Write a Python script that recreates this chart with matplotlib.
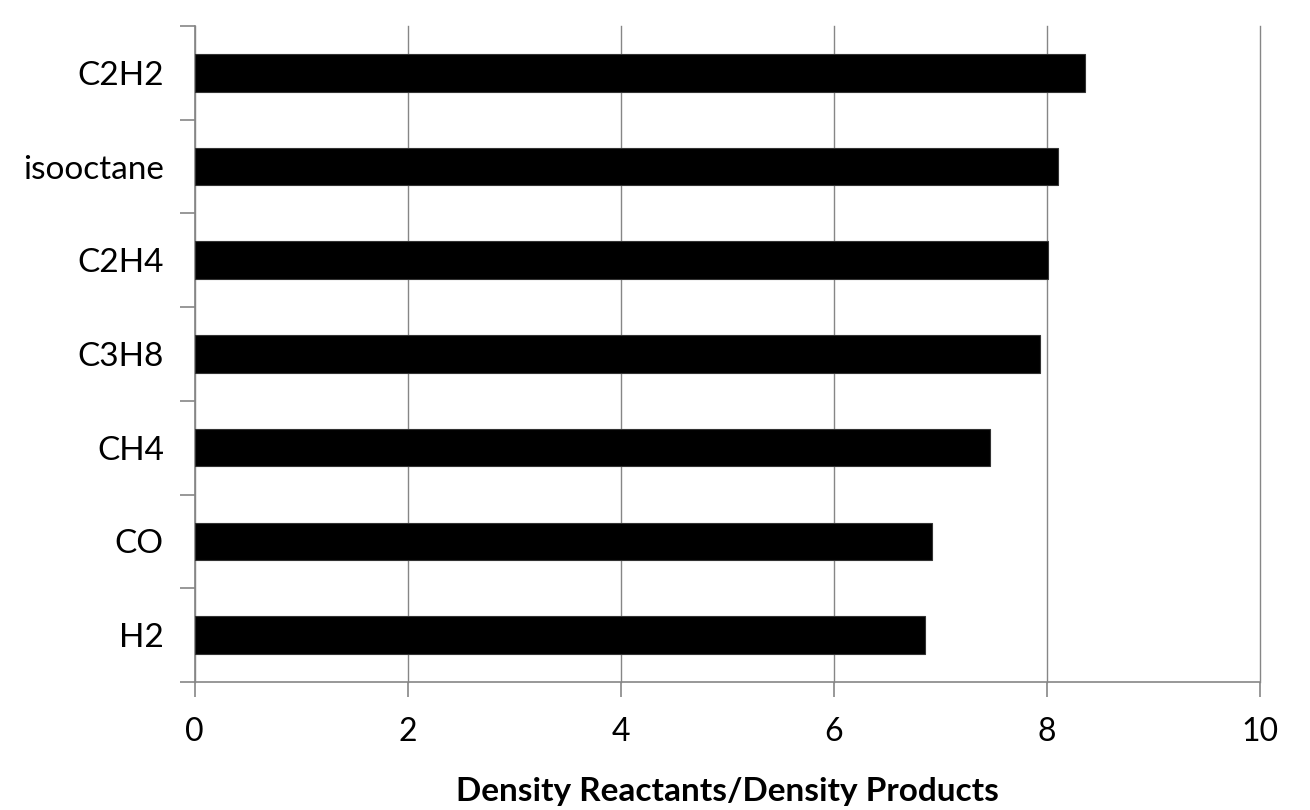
import matplotlib
matplotlib.use("Agg")
import matplotlib.pyplot as plt
import numpy as np

# fuels, bottom to top
fuels = ["H2", "CO", "CH4", "C3H8", "C2H4", "isooctane", "C2H2"]
density_ratio = [6.86, 6.92, 7.47, 7.94, 8.01, 8.10, 8.36]
x_ticks = [0, 2, 4, 6, 8, 10]

plt.rcParams["font.family"] = ["Lato", "DejaVu Sans"]
axis_gray = "#868686"

fig = plt.figure(figsize=(13.1, 8.1), dpi=100)
ax = fig.add_axes([0.1485, 0.158, 0.8133, 0.810])

pos = np.arange(len(fuels))
ax.barh(pos, density_ratio, height=0.4, color="black", edgecolor="#333333",
        linewidth=0.8, zorder=3)

ax.set_xlim(0, 10)
ax.set_ylim(-0.5, len(fuels) - 0.5)
ax.set_xticks(x_ticks)
ax.set_xticklabels([str(t) for t in x_ticks])
ax.set_yticks(pos)
ax.set_yticklabels(fuels)
ax.set_yticks(np.arange(-0.5, len(fuels)), minor=True)

ax.xaxis.grid(True, color=axis_gray, linewidth=1.0, zorder=0)
for gl in ax.get_xgridlines():
    gl.set_clip_on(False)
ax.set_axisbelow(True)

for side in ["top", "right"]:
    ax.spines[side].set_visible(False)
for side in ["left", "bottom"]:
    ax.spines[side].set_color(axis_gray)
    ax.spines[side].set_linewidth(1.2)

ax.tick_params(axis="y", which="major", length=0, pad=22, labelsize=24)
ax.tick_params(axis="y", which="minor", length=11, width=1.2, color=axis_gray)
ax.tick_params(axis="x", which="major", length=11, width=1.2, color=axis_gray,
               labelsize=23, pad=14)

ax.set_xlabel("Density Reactants/Density Products", fontsize=24,
              fontweight="bold", labelpad=22)

fig.savefig("out.png", dpi=100)
